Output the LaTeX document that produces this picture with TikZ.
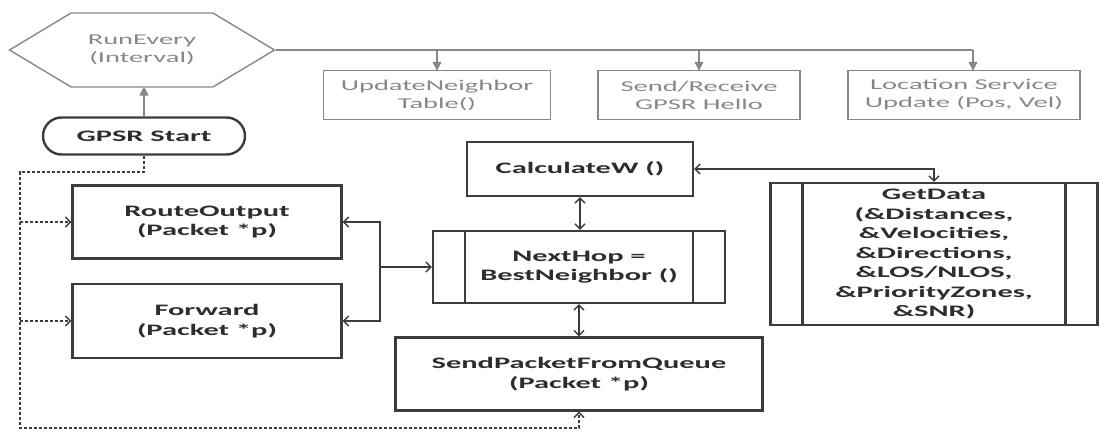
\documentclass[tikz,border=0pt]{standalone}
\usepackage{fontspec}
\usetikzlibrary{arrows.meta,calc,positioning,shapes.symbols,shapes.misc}
\newfontfamily\flowfont[FakeStretch=1.9]{Carlito}
\definecolor{boxgray}{RGB}{60,60,60}
\definecolor{textgray}{RGB}{45,45,45}
\definecolor{topgray}{RGB}{135,135,135}

\begin{document}
\begin{tikzpicture}[x=1pt, y=-1pt,
  proc/.style={draw=boxgray, line width=2.2pt, fill=white, align=center, text=textgray,
    inner sep=0pt, font=\flowfont\fontsize{16}{19.5}\selectfont\bfseries},
  subproc/.style={proc, path picture={
    \draw[boxgray, line width=2.2pt] ([xshift=#1]path picture bounding box.north west)
      -- ([xshift=#1]path picture bounding box.south west);
    \draw[boxgray, line width=2.2pt] ([xshift=-#1]path picture bounding box.north east)
      -- ([xshift=-#1]path picture bounding box.south east);}},
  task/.style={draw=topgray, line width=1.4pt, align=center, text=topgray,
    inner sep=0pt, minimum height=49, font=\flowfont\fontsize{15}{18}\selectfont},
  link/.style={draw=boxgray, line width=2pt},
  loopline/.style={draw=boxgray, line width=2pt, dash pattern=on 3pt off 2pt},
  openhead/.style={-{Straight Barb[length=5pt,width=10pt,line width=1.5pt]}},
  twohead/.style={{Straight Barb[length=5pt,width=10pt,line width=1.5pt]}-{Straight Barb[length=5pt,width=10pt,line width=1.5pt]}},
  grayline/.style={draw=topgray, line width=1.6pt},
  grayarrow/.style={grayline, -{Triangle[length=9pt,width=9pt]}, shorten >=-1pt}]
\useasboundingbox (0,0) rectangle (1100,433);

%--- timer and periodic tasks ---
\node[signal, signal to=west and east, signal pointer angle=62, draw=topgray, line width=1.4pt,
  minimum width=265, minimum height=74, inner sep=0pt, align=center, text=topgray,
  font=\flowfont\fontsize{15}{18}\selectfont] (run) at (142,50) {RunEvery\\(Interval)};
\node[task, minimum width=227] (upd) at (437,95) {UpdateNeighbor\\Table()};
\node[task, minimum width=202] (hello) at (699,95) {Send/Receive\\GPSR Hello};
\node[task, minimum width=232] (loc) at (964,95) {Location Service\\Update (Pos, Vel)};
\coordinate (busend) at (973,50);

\draw[grayline] (run.east) -- (busend);
\draw[grayarrow] (run.east -| upd.north) -- (upd.north);
\draw[grayarrow] (run.east -| hello.north) -- (hello.north);
\draw[grayarrow] (busend) -- (busend |- loc.north);

%--- start ---
\node[rounded rectangle, draw=boxgray, line width=2.4pt, minimum width=202, minimum height=37,
  inner sep=0pt, text=textgray, font=\flowfont\fontsize{16}{19.5}\selectfont\bfseries]
  (start) at (144,136) {GPSR Start};
\draw[grayarrow] (start.north) -- (start.north |- run.south);

%--- packet path ---
\node[proc, minimum width=269, minimum height=73] (route) at (207,222) {RouteOutput\\(Packet *p)};
\node[proc, minimum width=269, minimum height=74] (fwd) at (207,321) {Forward\\(Packet *p)};
\node[proc, minimum width=226, minimum height=54] (calc) at (580,169) {CalculateW ()};
\node[subproc=32pt, minimum width=292, minimum height=72] (hop) at (579,267) {NextHop =\\BestNeighbor ()};
\node[proc, minimum width=367, minimum height=73] (send) at (579,374) {SendPacketFromQueue\\(Packet *p)};
\node[subproc=32pt, minimum width=327, minimum height=142] (data) at (934,254)
  {GetData\\(\&Distances,\\\&Velocities,\\\&Directions,\\\&LOS/NLOS,\\\&PriorityZones,\\\&SNR)};

% dashed loop from start
\coordinate (loopL) at (20,172);
\coordinate (loopB) at (20,428);
\draw[loopline, openhead] (start.south) |- (loopL) -- (loopB) -| (send.south);
\draw[loopline, openhead] (route.west -| loopL) -- (route.west);
\draw[loopline, openhead] (fwd.west -| loopL) -- (fwd.west);

% fork to next hop
\coordinate (split) at (380,267);
\draw[link, openhead] (split) |- (route.east);
\draw[link, openhead] (split) |- (fwd.east);
\draw[link, openhead] (split) -- (hop.west);

% weights and data
\draw[link, twohead] (calc.south) -- (calc.south |- hop.north);
\draw[link, twohead] (hop.south) -- (hop.south |- send.north);
\draw[link, twohead] (data.north) |- (calc.east);
\end{tikzpicture}
\end{document}
